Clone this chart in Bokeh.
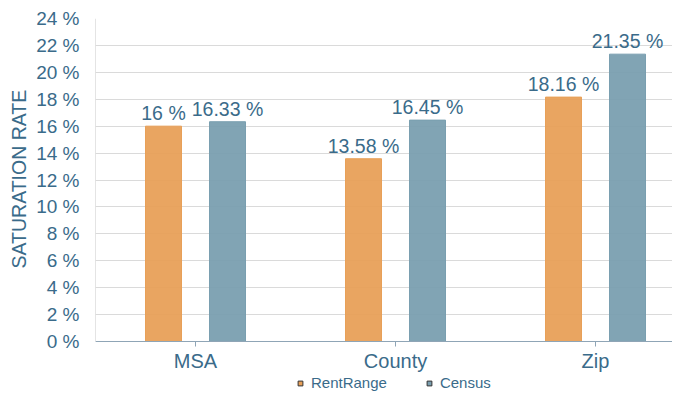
from bokeh.plotting import figure
from bokeh.models import Range1d, FixedTicker, Legend, LegendItem, ColumnDataSource, LinearAxis, Title
from bokeh.core.properties import value
from bokeh.embed import file_html
from bokeh.resources import INLINE

categories = ["MSA", "County", "Zip"]
rentrange = [16, 13.58, 18.16]
census = [16.33, 16.45, 21.35]
y_ticks = [0, 2, 4, 6, 8, 10, 12, 14, 16, 18, 20, 22, 24]

FONT = "Liberation Sans"
TXT = "#3a6b8a"
ORANGE = "#e8a058"
BLUE = "#7a9fb0"

p = figure(frame_width=577, frame_height=373, output_backend="svg", toolbar_location=None,
           x_range=Range1d(0, 2.885), y_range=Range1d(-3.715, 24), x_axis_location=None,
           min_border_left=95, min_border_right=0, min_border_top=18, min_border_bottom=0)
p.outline_line_color = None
p.xgrid.grid_line_color = None
p.ygrid.grid_line_color = "#dadada"
p.ygrid.ticker = FixedTicker(ticks=y_ticks)

xc = [i + 0.5 for i in range(len(categories))]
off, w = 0.16, 0.18
src1 = ColumnDataSource(dict(x=[x - off for x in xc], top=rentrange,
                             lbl=[f"{v:g} %" for v in rentrange]))
src2 = ColumnDataSource(dict(x=[x + off for x in xc], top=census,
                             lbl=[f"{v:g} %" for v in census]))
# left axis line (only over the value range)
p.segment(x0=[0], y0=[y_ticks[0]], x1=[0], y1=[y_ticks[-1]], line_color="#c9c9c9", line_width=1)
p.vbar(x="x", top="top", width=w, source=src1, fill_color=ORANGE, line_color=ORANGE, fill_alpha=0.95)
p.vbar(x="x", top="top", width=w, source=src2, fill_color=BLUE, line_color=BLUE, fill_alpha=0.95)
for s in (src1, src2):
    p.text(x="x", y="top", text="lbl", source=s, text_align="center", text_baseline="bottom",
           y_offset=-2, text_font=value(FONT), text_font_size="19.5px", text_color=TXT)

# y axis
ya = p.yaxis[0]
ya.ticker = FixedTicker(ticks=y_ticks)
ya.major_label_overrides = {t: f"{t} %" for t in y_ticks}
ya.major_label_text_font = FONT
ya.major_label_text_font_size = "19px"
ya.major_label_text_color = TXT
ya.major_tick_line_color = None
ya.minor_tick_line_color = None
ya.major_label_standoff = 10
ya.axis_line_color = None

# y axis title, positioned along the value range (0..24)
ytitle = Title(text="SATURATION RATE", align="left", offset=123, text_font=FONT,
               text_font_size="19.5px", text_font_style="normal", text_color=TXT, standoff=8)
p.add_layout(ytitle, "left")

# x axis fixed at value 0
xa = LinearAxis(fixed_location=0)
xa.ticker = FixedTicker(ticks=xc)
xa.major_label_overrides = {x: c for x, c in zip(xc, categories)}
xa.major_label_text_font = FONT
xa.major_label_text_font_size = "20px"
xa.major_label_text_color = TXT
xa.major_tick_in = 0
xa.major_tick_out = 5
xa.major_tick_line_color = "#8fa5b6"
xa.minor_tick_line_color = None
xa.axis_line_color = "#8fa5b6"
xa.major_label_standoff = 3
p.add_layout(xa, "below")

# legend with square markers
e1 = p.scatter(x=[0], y=[-50], marker="square", size=13, fill_color=ORANGE, line_color="#333333")
e2 = p.scatter(x=[0], y=[-50], marker="square", size=13, fill_color=BLUE, line_color="#333333")
legend = Legend(items=[LegendItem(label="RentRange", renderers=[e1]),
                       LegendItem(label="Census", renderers=[e2])],
                orientation="horizontal", location=(199, 0),
                label_text_font=FONT, label_text_font_size="15px", label_text_color=TXT,
                glyph_width=12, glyph_height=12, label_standoff=5, spacing=36,
                border_line_color=None, background_fill_alpha=0, padding=0, margin=0,
                label_height=16)
p.add_layout(legend, "center")

open("out.html", "w").write(file_html(p, INLINE))
